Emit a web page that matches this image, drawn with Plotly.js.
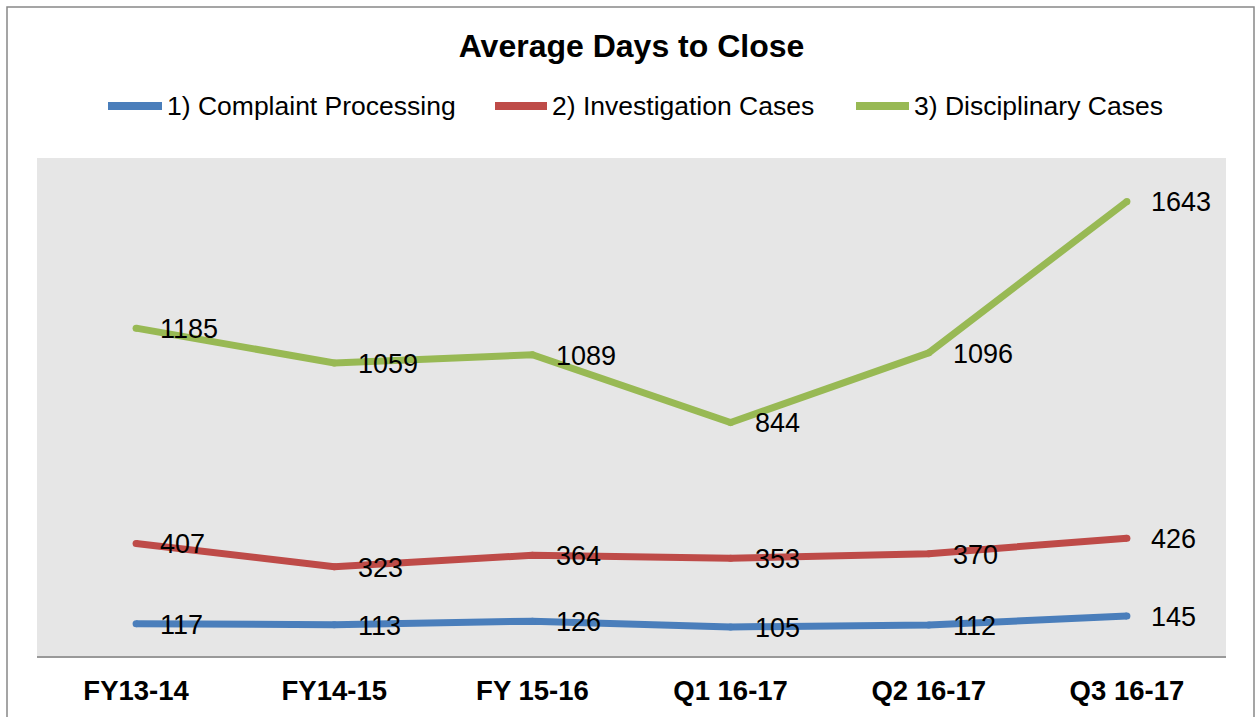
<!DOCTYPE html>
<html>
<head>
<meta charset="utf-8">
<script src="https://cdn.plot.ly/plotly-3.0.1.min.js"></script>
<style>html,body{margin:0;padding:0;background:#fff;}#chart{width:1258px;height:717px;}</style>
</head>
<body>
<div id="chart"></div>
<script>
const categories = ["FY13-14", "FY14-15", "FY 15-16", "Q1 16-17", "Q2 16-17", "Q3 16-17"];
const complaintProcessing = [117, 113, 126, 105, 112, 145];
const investigationCases = [407, 323, 364, 353, 370, 426];
const disciplinaryCases = [1185, 1059, 1089, 844, 1096, 1643];
const seriesNames = ["1) Complaint Processing", "2) Investigation Cases", "3) Disciplinary Cases"];
const seriesColors = ["#4A7EBB", "#BE4B48", "#98B954"];
const seriesValues = [complaintProcessing, investigationCases, disciplinaryCases];

const FONT = "Liberation Sans, Arial, sans-serif";
const PL = 37, PR = 1226, PT = 158, PB = 656;
const px2x = p => (p - PL) / (PR - PL);
const px2y = p => (PB - p) / (PB - PT);

const traces = seriesValues.map((vals, i) => ({
  type: "scatter",
  mode: "lines+markers",
  x: categories,
  y: vals,
  name: seriesNames[i],
  line: {color: seriesColors[i], width: 7},
  marker: {color: seriesColors[i], size: 7, line: {width: 0}},
  hoverinfo: "skip"
}));

const annotations = [];
seriesValues.forEach((vals) => {
  vals.forEach((v, j) => {
    annotations.push({
      x: categories[j], y: v, xref: "x", yref: "y",
      text: String(v), showarrow: false,
      xanchor: "left", yanchor: "middle", xshift: 22, yshift: -1,
      font: {family: FONT, size: 27, color: "#000"}
    });
  });
});

// custom legend (line sample + label)
const legendLines = [[105, 165], [492, 550], [853, 912]];
const legendY = 106;
const shapes = [];
legendLines.forEach((ln, i) => {
  shapes.push({
    type: "line", xref: "paper", yref: "paper",
    x0: px2x(ln[0] + 3), x1: px2x(ln[1] - 3), y0: px2y(legendY), y1: px2y(legendY),
    line: {color: seriesColors[i], width: 8}
  });
  annotations.push({
    xref: "paper", yref: "paper", x: px2x(ln[1]), y: px2y(legendY),
    xanchor: "left", yanchor: "middle", showarrow: false,
    text: seriesNames[i], font: {family: FONT, size: 26.5, color: "#000"}
  });
});
shapes.push({
  type: "rect", xref: "paper", yref: "paper",
  x0: px2x(7), x1: px2x(1254), y0: -0.3, y1: px2y(7),
  line: {color: "#888888", width: 1.5}, fillcolor: "rgba(0,0,0,0)", layer: "below"
});

const layout = {
  width: 1258, height: 717,
  margin: {l: PL, r: 1258 - PR, t: PT, b: 717 - PB},
  paper_bgcolor: "#ffffff",
  plot_bgcolor: "#e6e6e6",
  font: {family: FONT, color: "#000"},
  title: {
    text: "<b>Average Days to Close</b>",
    font: {size: 32, family: FONT, color: "#000"},
    x: 0.5, xanchor: "center", xref: "paper",
    y: 1 - 46/717, yanchor: "middle", yref: "container"
  },
  showlegend: false,
  xaxis: {
    type: "category", range: [-0.5, 5.5],
    showgrid: false, zeroline: false,
    showline: true, linecolor: "#999999", linewidth: 2,
    ticks: "", ticklabelstandoff: 9,
    tickfont: {size: 27.5, family: FONT, color: "#000", weight: "bold"},
    fixedrange: true
  },
  yaxis: {
    range: [0, 1800], visible: false, showgrid: false, zeroline: false, fixedrange: true
  },
  annotations: annotations,
  shapes: shapes
};

Plotly.newPlot("chart", traces, layout, {displayModeBar: false, staticPlot: true});
</script>
</body>
</html>
